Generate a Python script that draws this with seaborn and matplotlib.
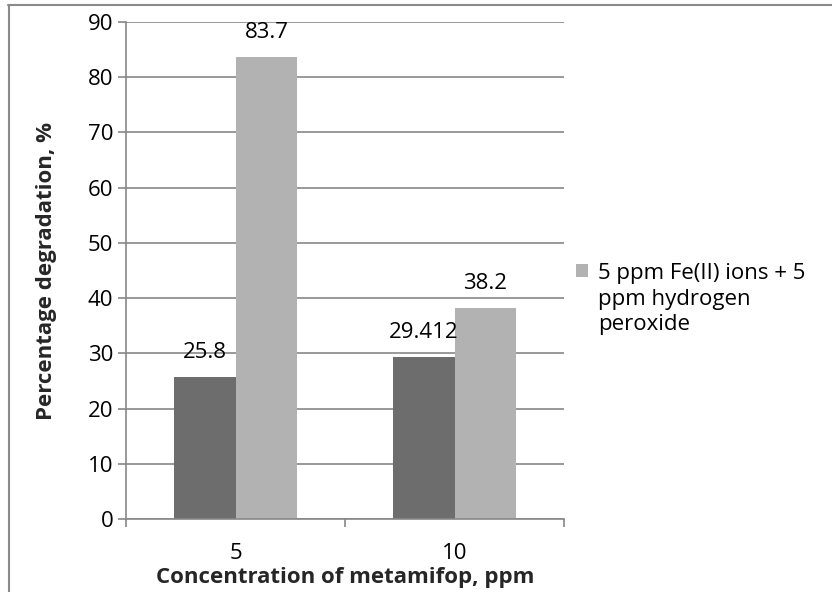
import matplotlib
matplotlib.use("Agg")
import pandas as pd
import matplotlib.pyplot as plt
import seaborn as sns
from matplotlib.lines import Line2D
from matplotlib.patches import Rectangle

concentrations = ["5", "10"]
series_names = ["Fe(II) ions", "5 ppm Fe(II) ions + 5\nppm hydrogen\nperoxide"]
dark_values = [25.8, 29.412]
light_values = [83.7, 38.2]
dark_labels = ["25.8", "29.412"]
light_labels = ["83.7", "38.2"]
y_ticks = [0, 10, 20, 30, 40, 50, 60, 70, 80, 90]

df = pd.DataFrame({
    "conc": concentrations * 2,
    "series": [series_names[0]] * 2 + [series_names[1]] * 2,
    "value": dark_values + light_values,
})

sns.set_style("white")
plt.rcParams["font.family"] = ["Open Sans", "DejaVu Sans"]
plt.rcParams["text.color"] = "black"

fig = plt.figure(figsize=(8.32, 5.92), dpi=100)
ax = fig.add_axes([126 / 832, 1 - 519 / 592, 438 / 832, 497 / 592])

palette = {series_names[0]: "#6d6d6d", series_names[1]: "#b2b2b2"}
sns.barplot(data=df, x="conc", y="value", hue="series", order=concentrations,
            hue_order=series_names, palette=palette, width=0.566,
            saturation=1, legend=False, linewidth=0, ax=ax)

ax.set_ylim(0, 90)
ax.set_xlim(-0.5, 1.5)
ax.set_yticks(y_ticks)
ax.yaxis.grid(True, color="#878787", linewidth=1.2)
ax.set_axisbelow(True)
for side in ["top", "right"]:
    ax.spines[side].set_visible(False)
for side in ["left", "bottom"]:
    ax.spines[side].set_color("#878787")
    ax.spines[side].set_linewidth(1.2)

ax.tick_params(axis="y", which="major", left=True, length=6, width=1.2,
               color="#878787", labelsize=16, labelcolor="black", pad=3)
ax.set_xticks([0, 1])
ax.set_xticklabels(concentrations)
ax.tick_params(axis="x", which="major", bottom=False, labelsize=16,
               labelcolor="black", pad=14)
ax.set_xticks([-0.5, 0.5, 1.5], minor=True)
ax.tick_params(axis="x", which="minor", bottom=True, length=6, width=1.2,
               color="#878787")

for container, labels in zip(ax.containers, [dark_labels, light_labels]):
    ax.bar_label(container, labels=labels, padding=10, fontsize=16)

ax.set_xlabel("Concentration of metamifop, ppm", fontsize=16, fontweight="bold")
ax.xaxis.set_label_coords(0.5, (519 - 578) / 497)
ax.xaxis.label.set_verticalalignment("center")
ax.set_ylabel("Percentage degradation, %", fontsize=16, fontweight="bold")
ax.yaxis.set_label_coords((47 - 126) / 438, 0.5)
ax.yaxis.label.set_verticalalignment("center")

handle = Rectangle((0, 0), 1, 1, facecolor="#b2b2b2", linewidth=0)
leg = ax.legend([handle], [series_names[1]], loc="center left",
                bbox_to_anchor=(1.0, (519 - 299) / 497), frameon=False,
                fontsize=16, handlelength=0.55, handleheight=0.55,
                handletextpad=0.45, labelspacing=0.2, borderaxespad=0.15)
for t in leg.get_texts():
    t.set_linespacing(1.3)
# put the square next to the first line of the label, as in the original
lh = leg.legend_handles[0]
lh.set_y(lh.get_y() + 16 * 1.3)

fig.add_artist(Line2D([8 / 832, 1], [1 - 5 / 592, 1 - 5 / 592],
                      transform=fig.transFigure, color="#8a8a8a", linewidth=1.5))
fig.add_artist(Line2D([9 / 832, 9 / 832], [0, 1 - 5 / 592],
                      transform=fig.transFigure, color="#8a8a8a", linewidth=1.5))

fig.savefig("out.png", dpi=100)
